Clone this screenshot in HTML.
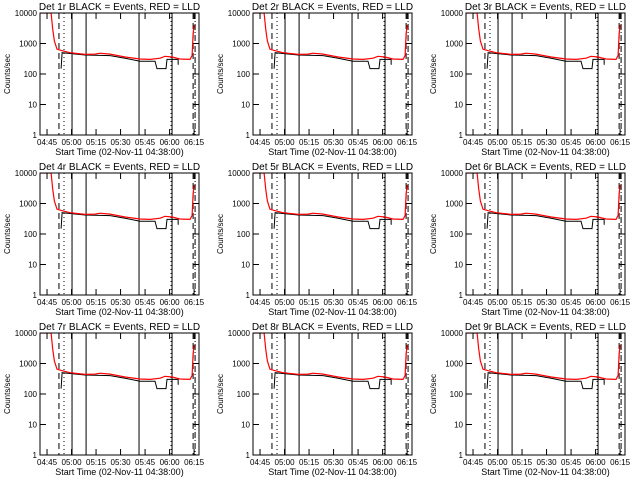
<!DOCTYPE html>
<html><head><meta charset="utf-8"><style>
body{margin:0;background:#fff}
svg{display:block;font-family:"Liberation Sans",sans-serif}
</style></head><body>
<svg id="c" width="640" height="480" viewBox="0 0 640 480"></svg>
<script>
const detectors=["1r","2r","3r","4r","5r","6r","7r","8r","9r"];
const tickLabels=["04:45","05:00","05:15","05:30","05:45","06:00","06:15"];
const tickMinutes=[7,22,37,52,67,82,97];
const yTicks=[1,10,100,1000,10000];
const yTickLabels=["1","10","100","1000","10000"];
const redTimes=[2.7,9.5,10.5,11.5,13.1,16.2,21.1,30.3,36.4,39.4,45.6,54.8,63.9,70.1,76.2,79.2,83.5,88.4,94.5,95.8,96.4,97];
const redValues=[10000,10000,3000,1200,650,580,500,440,450,480,450,360,310,300,330,380,360,310,300,400,2000,4000];
const blackTimes=[15.6,16.2,21.1,30.3,45.6,54.8,63.9,73.1,74.3,79.8,80.4,87.2,87.3];
const blackValues=[150,500,470,420,400,330,260,260,150,150,300,300,200];
const lineTimes=[14.3,17.4,22.3,30.9,63.3,82.9,83.5,96.4,97.6];
const lineStyles=["6,4","1,3","","","","1,3","","6,4","6,2,1,2"];
const NS="http://www.w3.org/2000/svg";
const svg=document.getElementById('c');
function mk(tag,attrs,parent){const e=document.createElementNS(NS,tag);for(const k in attrs)e.setAttribute(k,attrs[k]);(parent||svg).appendChild(e);return e;}
const W=159,H=122,T0=2.7,T1=100;
detectors.forEach((d,i)=>{
  const ox=40+(i%3)*213, oy=13+Math.floor(i/3)*160;
  const xs=t=>ox+(t-T0)/(T1-T0)*W;
  const ys=v=>oy+H-Math.log10(v)/4*H;
  const g=mk('g',{});
  
  
  const clipId='clip'+i;
  const cp=mk('clipPath',{id:clipId},g);mk('rect',{x:ox,y:oy,width:W,height:H},cp);
  lineTimes.forEach((t,j)=>{const l=mk('line',{x1:xs(t),x2:xs(t),y1:oy,y2:oy+H,stroke:'#000','stroke-width':1,'stroke-dasharray':lineStyles[j]},g);
    });
  const pts=(ts,vs)=>ts.map((t,k)=>xs(t).toFixed(1)+','+ys(vs[k]).toFixed(1)).join(' ');
  const bl=mk('polyline',{points:pts(blackTimes,blackValues),fill:'none',stroke:'#000','stroke-width':1,'clip-path':'url(#'+clipId+')'},g);
  
  const rl=mk('polyline',{points:pts(redTimes,redValues),fill:'none',stroke:'#f00','stroke-width':1.2,'clip-path':'url(#'+clipId+')'},g);
  
  const fr=mk('rect',{x:ox,y:oy,width:W,height:H,fill:'none',stroke:'#000','stroke-width':1},g);
  
  yTicks.forEach((v,k)=>{const y=ys(v);
    mk('line',{x1:ox,x2:ox+6,y1:y,y2:y,stroke:'#000'},g);mk('line',{x1:ox+W,x2:ox+W-6,y1:y,y2:y,stroke:'#000'},g);
    const tx=mk('text',{x:ox-3,y:y+3,'font-size':8,'text-anchor':'end'},g);tx.textContent=yTickLabels[k];
    });
  tickMinutes.forEach((t,k)=>{const x=xs(t);
    mk('line',{x1:x,x2:x,y1:oy+H,y2:oy+H-6,stroke:'#000'},g);mk('line',{x1:x,x2:x,y1:oy,y2:oy+6,stroke:'#000'},g);
    const tx=mk('text',{x:x,y:oy+H+10,'font-size':8,'text-anchor':'middle'},g);tx.textContent=tickLabels[k];
    });
  const ti=mk('text',{x:ox+W/2,y:oy-3,'font-size':10,'text-anchor':'middle'},g);ti.textContent='Det '+d+' BLACK = Events, RED = LLD';
  
  const xt=mk('text',{x:ox+W/2,y:oy+H+20,'font-size':9,'text-anchor':'middle'},g);xt.textContent='Start Time (02-Nov-11 04:38:00)';
  
  const yt=mk('text',{x:0,y:0,'font-size':8,'text-anchor':'middle',transform:'translate('+(ox-30)+','+(oy+H/2)+') rotate(-90)'},g);yt.textContent='Counts/sec';
  
});
</script>
</body></html>
